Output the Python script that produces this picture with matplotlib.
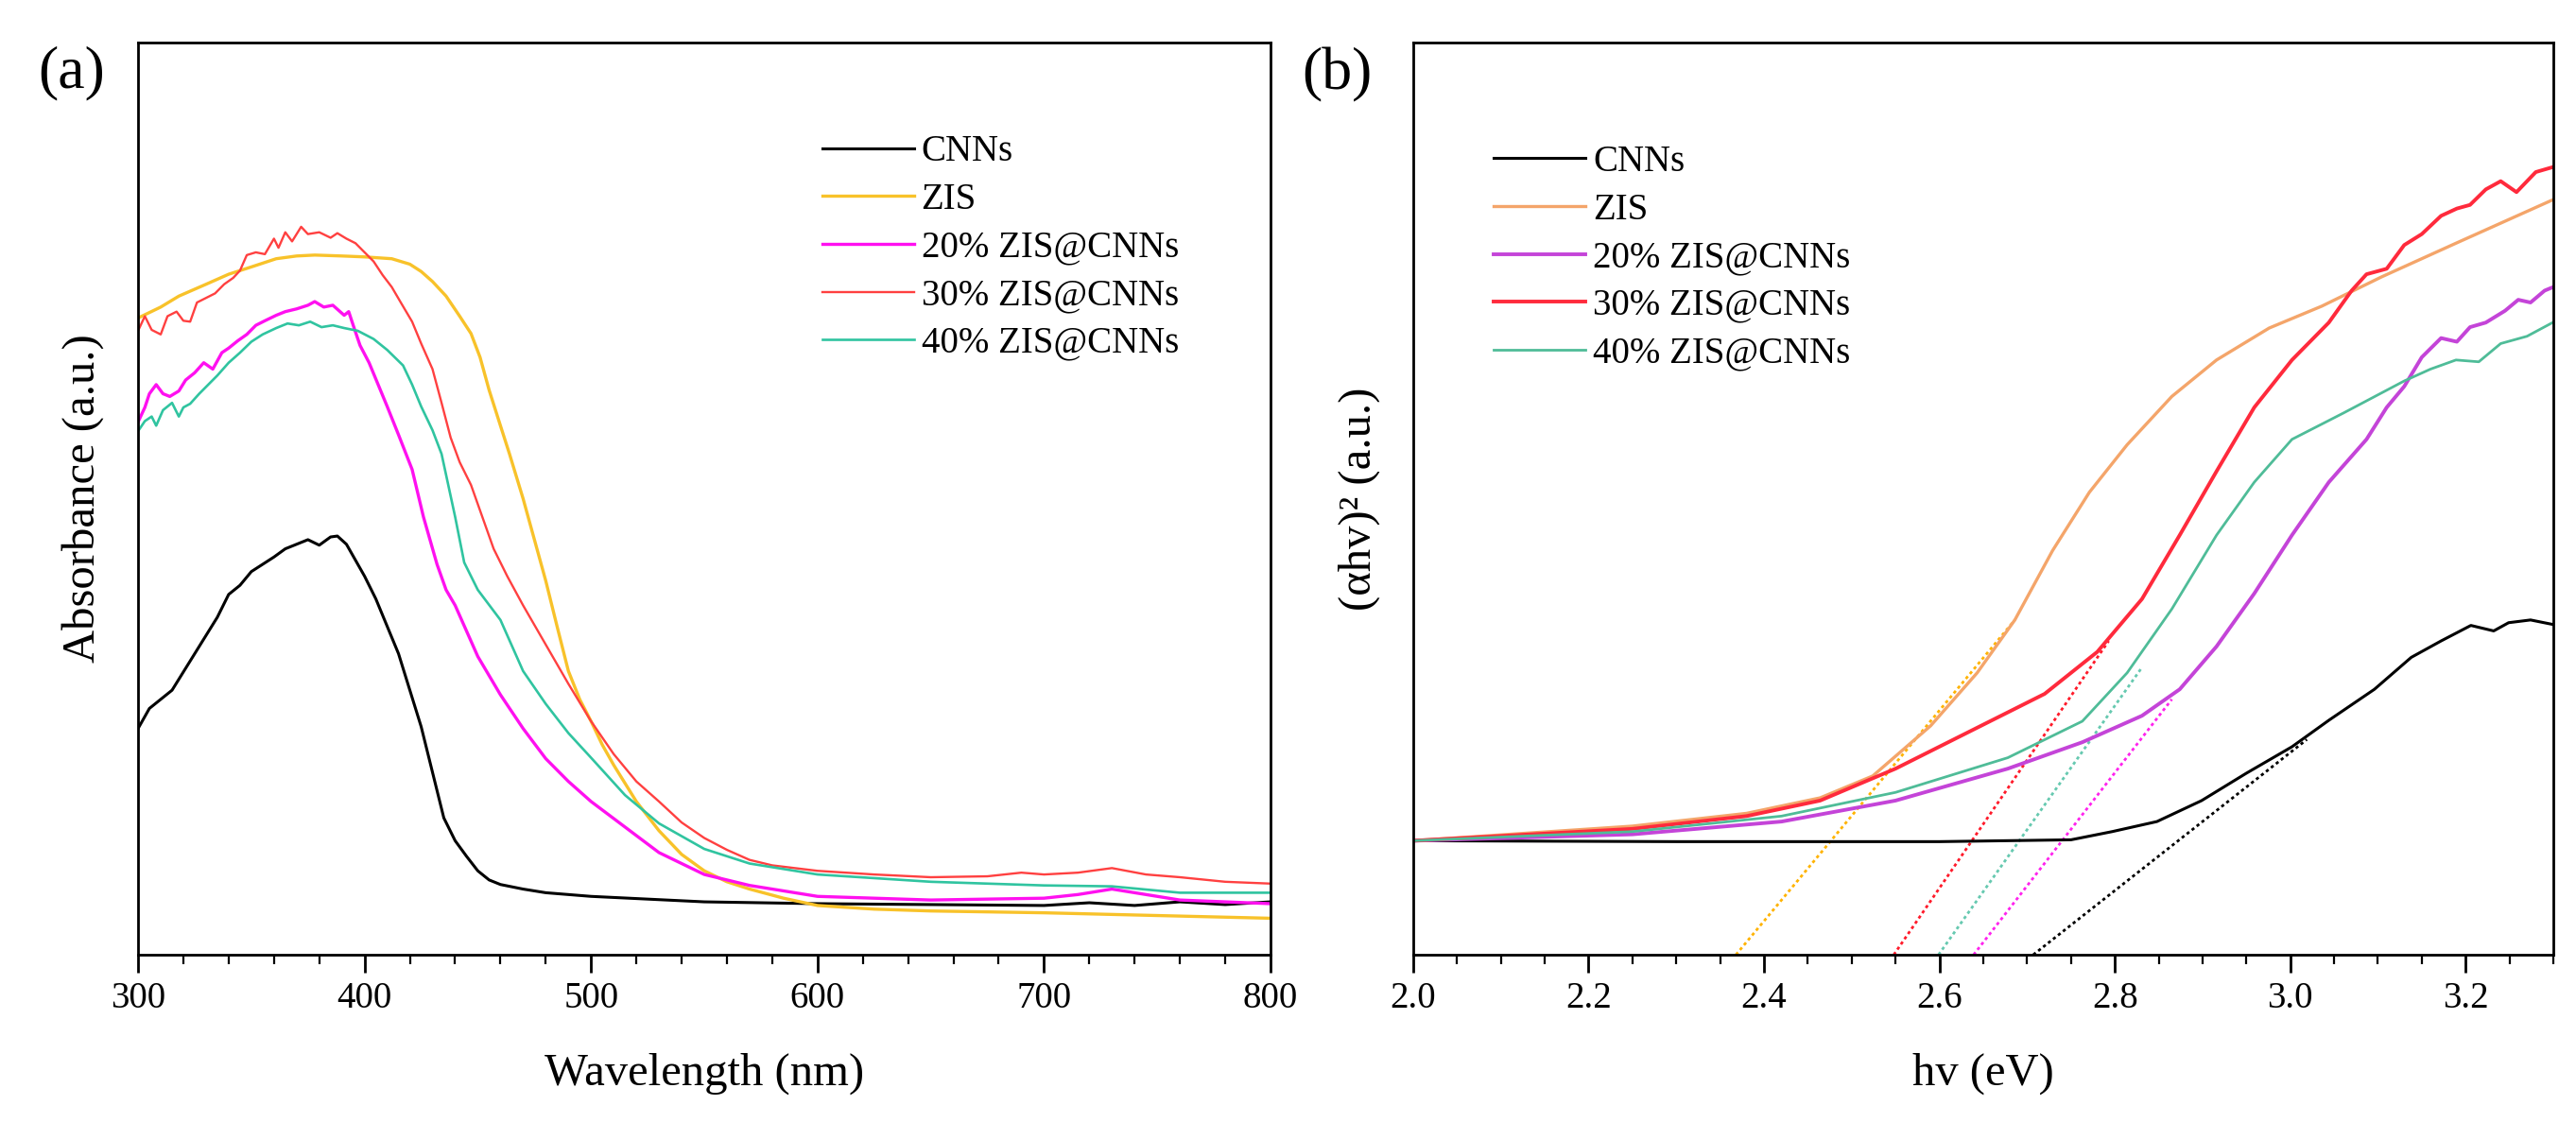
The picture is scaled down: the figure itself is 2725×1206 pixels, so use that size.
import matplotlib
matplotlib.use("Agg")
import matplotlib.pyplot as plt
from matplotlib.ticker import MultipleLocator, NullLocator

plt.rcParams['font.family'] = ['Liberation Serif', 'DejaVu Serif']

### Panel (a) data: absorbance (axes fraction) vs wavelength (nm) ###
labels = ["CNNs", "ZIS", "20% ZIS@CNNs", "30% ZIS@CNNs", "40% ZIS@CNNs"]

wl_cnns = [300, 305, 310, 315, 320, 325, 330, 335, 340, 345, 350, 355, 360, 365, 370, 375, 380, 385, 388,
           392, 400, 405, 410, 415, 420, 425, 430, 435, 440, 445, 450, 455, 460, 470, 480, 500, 550, 600,
           650, 700, 720, 740, 760, 780, 800]
ab_cnns = [0.248, 0.27, 0.28, 0.29, 0.31, 0.33, 0.35, 0.37, 0.395, 0.405, 0.42, 0.428, 0.436, 0.445, 0.45,
           0.455, 0.449, 0.458, 0.459, 0.45, 0.415, 0.39, 0.36, 0.33, 0.29, 0.25, 0.20, 0.15, 0.125, 0.108,
           0.092, 0.082, 0.077, 0.072, 0.068, 0.064, 0.058, 0.056, 0.055, 0.054, 0.057, 0.054, 0.058, 0.055, 0.058]

wl_zis = [300, 310, 318, 330, 340, 350, 361, 370, 378, 390, 400, 412, 420, 425, 430, 436, 442, 447, 451,
          455, 460, 464, 470, 475, 480, 485, 490, 495, 500, 505, 510, 520, 530, 540, 550, 560, 570, 585,
          600, 625, 650, 700, 750, 800]
ab_zis = [0.698, 0.71, 0.722, 0.735, 0.746, 0.754, 0.763, 0.766, 0.767, 0.766, 0.765, 0.763, 0.757, 0.749,
          0.738, 0.722, 0.70, 0.681, 0.655, 0.619, 0.58, 0.549, 0.50, 0.455, 0.41, 0.36, 0.311, 0.28, 0.256,
          0.23, 0.208, 0.168, 0.136, 0.11, 0.092, 0.08, 0.072, 0.062, 0.054, 0.05, 0.048, 0.046, 0.043, 0.040]

wl_20 = [300, 303, 305, 308, 311, 314, 318, 321, 325, 329, 333, 337, 340, 344, 348, 352, 356, 361, 365,
         370, 375, 378, 382, 386, 391, 393, 395, 398, 402, 406, 410, 415, 421, 426, 432, 436, 440, 445,
         450, 460, 470, 480, 490, 500, 515, 530, 550, 570, 600, 650, 700, 715, 730, 745, 760, 780, 800]
ab_20 = [0.584, 0.60, 0.615, 0.625, 0.615, 0.612, 0.618, 0.63, 0.638, 0.649, 0.642, 0.66, 0.665, 0.673,
         0.68, 0.69, 0.695, 0.701, 0.705, 0.708, 0.712, 0.716, 0.71, 0.712, 0.701, 0.705, 0.69, 0.668, 0.649,
         0.625, 0.601, 0.57, 0.532, 0.48, 0.428, 0.40, 0.383, 0.355, 0.327, 0.285, 0.248, 0.215, 0.19, 0.168,
         0.14, 0.112, 0.088, 0.076, 0.064, 0.060, 0.062, 0.066, 0.072, 0.066, 0.060, 0.058, 0.056]

wl_30 = [300, 303, 306, 310, 313, 317, 320, 323, 326, 330, 334, 338, 342, 345, 348, 352, 356, 360, 362,
         365, 368, 372, 375, 380, 385, 388, 392, 396, 400, 404, 408, 412, 416, 421, 425, 430, 434, 438,
         442, 447, 452, 457, 463, 470, 480, 490, 500, 510, 520, 530, 540, 550, 560, 570, 580, 600, 625,
         650, 675, 690, 700, 715, 730, 745, 760, 780, 800]
ab_30 = [0.684, 0.70, 0.685, 0.68, 0.70, 0.705, 0.695, 0.694, 0.715, 0.72, 0.725, 0.735, 0.742, 0.75,
         0.767, 0.77, 0.768, 0.785, 0.775, 0.792, 0.782, 0.798, 0.79, 0.792, 0.786, 0.791, 0.785, 0.78,
         0.77, 0.76, 0.745, 0.732, 0.715, 0.694, 0.67, 0.642, 0.605, 0.567, 0.54, 0.515, 0.48, 0.445,
         0.415, 0.383, 0.34, 0.297, 0.256, 0.22, 0.19, 0.168, 0.145, 0.128, 0.115, 0.104, 0.098, 0.092,
         0.088, 0.085, 0.086, 0.09, 0.088, 0.09, 0.095, 0.088, 0.085, 0.08, 0.078]

wl_40 = [300, 303, 306, 308, 311, 315, 318, 320, 323, 327, 331, 335, 340, 345, 350, 355, 361, 366, 371,
         376, 381, 386, 391, 397, 404, 410, 417, 421, 425, 430, 434, 440, 444, 450, 460, 470, 480, 490,
         500, 515, 530, 550, 570, 600, 650, 700, 730, 760, 800]
ab_40 = [0.574, 0.585, 0.59, 0.58, 0.597, 0.605, 0.59, 0.60, 0.604, 0.615, 0.625, 0.635, 0.649, 0.66,
         0.672, 0.68, 0.687, 0.692, 0.69, 0.694, 0.688, 0.69, 0.687, 0.684, 0.675, 0.663, 0.646, 0.625,
         0.601, 0.575, 0.549, 0.48, 0.43, 0.40, 0.367, 0.311, 0.275, 0.243, 0.216, 0.175, 0.144, 0.116,
         0.100, 0.088, 0.080, 0.076, 0.075, 0.068, 0.068]

### Panel (b) data: (ahv)^2 (axes fraction) vs photon energy (eV) ###
ev_cnns = [2.0, 2.3, 2.6, 2.75, 2.797, 2.848, 2.899, 2.95, 3.002, 3.044, 3.096, 3.138, 3.172, 3.206,
           3.232, 3.249, 3.274, 3.305]
tc_cnns = [0.125, 0.124, 0.124, 0.126, 0.135, 0.146, 0.169, 0.199, 0.228, 0.257, 0.291, 0.326, 0.344,
           0.361, 0.355, 0.364, 0.367, 0.361]

ev_zis = [2.0, 2.25, 2.38, 2.464, 2.524, 2.59, 2.643, 2.686, 2.729, 2.771, 2.814, 2.865, 2.916, 2.976,
          3.036, 3.104, 3.189, 3.305]
tc_zis = [0.125, 0.141, 0.155, 0.172, 0.196, 0.251, 0.309, 0.367, 0.443, 0.507, 0.559, 0.612, 0.652,
          0.687, 0.711, 0.743, 0.780, 0.830]

ev_20 = [2.0, 2.25, 2.42, 2.55, 2.678, 2.763, 2.831, 2.874, 2.916, 2.959, 3.002, 3.044, 3.087, 3.11,
         3.13, 3.15, 3.172, 3.19, 3.205, 3.223, 3.245, 3.26, 3.274, 3.29, 3.305]
tc_20 = [0.125, 0.132, 0.146, 0.169, 0.204, 0.233, 0.262, 0.291, 0.338, 0.396, 0.460, 0.518, 0.565,
         0.600, 0.623, 0.655, 0.676, 0.672, 0.688, 0.693, 0.706, 0.718, 0.715, 0.728, 0.734]

ev_30 = [2.0, 2.25, 2.38, 2.464, 2.55, 2.635, 2.72, 2.78, 2.831, 2.874, 2.916, 2.959, 3.002, 3.044,
         3.07, 3.087, 3.11, 3.13, 3.15, 3.172, 3.19, 3.205, 3.223, 3.24, 3.258, 3.28, 3.305]
tc_30 = [0.125, 0.138, 0.152, 0.169, 0.204, 0.245, 0.286, 0.332, 0.390, 0.460, 0.530, 0.600, 0.652,
         0.693, 0.728, 0.746, 0.752, 0.778, 0.790, 0.810, 0.818, 0.822, 0.839, 0.848, 0.836, 0.858, 0.865]

ev_40 = [2.0, 2.25, 2.42, 2.55, 2.678, 2.763, 2.814, 2.865, 2.916, 2.959, 3.002, 3.061, 3.13, 3.16,
         3.189, 3.215, 3.24, 3.27, 3.305]
tc_40 = [0.125, 0.135, 0.152, 0.178, 0.216, 0.256, 0.309, 0.379, 0.460, 0.518, 0.565, 0.594, 0.629,
         0.642, 0.652, 0.650, 0.670, 0.678, 0.696]

# tangent (Tauc) lines: start/end x and y
tan_x = {"CNNs": [2.707, 3.019], "ZIS": [2.368, 2.686], "20%": [2.639, 2.865],
         "30%": [2.548, 2.793], "40%": [2.599, 2.831]}
tan_y = {"CNNs": [0.0, 0.236], "ZIS": [0.0, 0.367], "20%": [0.0, 0.28],
         "30%": [0.0, 0.344], "40%": [0.0, 0.315]}

### Style ###
colors_a = ["black", "#F8C22A", "#FF10F0", "#FF4040", "#30C4A0"]
widths_a = [2.2, 2.4, 2.4, 1.7, 1.9]
colors_b = ["black", "#F4A56A", "#C444D8", "#FF2A3C", "#4FBC98"]
widths_b = [2.2, 2.4, 2.8, 2.8, 2.0]
tan_colors = {"CNNs": "black", "ZIS": "#FFB300", "20%": "#FF22EE", "30%": "#FF1A2A", "40%": "#66C9B0"}

fig = plt.figure(figsize=(27.25, 12.06), dpi=100)
ax_a = fig.add_axes([0.0536, 0.1625, 0.4396, 0.8002])
ax_b = fig.add_axes([0.5486, 0.1625, 0.4426, 0.8002])


def style_axis(ax):
    for s in ax.spines.values():
        s.set_linewidth(2.0)
    ax.yaxis.set_major_locator(NullLocator())
    ax.yaxis.set_minor_locator(NullLocator())
    ax.tick_params(axis='x', which='major', direction='out', length=14, width=2.0,
                   labelsize=28, pad=6, top=False)
    ax.tick_params(axis='x', which='minor', direction='out', length=7, width=1.6, top=False)
    ax.set_ylim(0, 1)


# Panel (a)
series_a = [(wl_cnns, ab_cnns), (wl_zis, ab_zis), (wl_20, ab_20), (wl_30, ab_30), (wl_40, ab_40)]
for (x, y), lab, c, w in zip(series_a, labels, colors_a, widths_a):
    ax_a.plot(x, y, color=c, lw=w, label=lab)
ax_a.set_xlim(300, 800)
ax_a.xaxis.set_major_locator(MultipleLocator(100))
ax_a.xaxis.set_minor_locator(MultipleLocator(20))
style_axis(ax_a)
ax_a.set_xlabel("Wavelength (nm)", fontsize=35)
ax_a.xaxis.set_label_coords(0.5, -0.13)
ax_a.xaxis.label.set_va('center')
ax_a.set_ylabel("Absorbance (a.u.)", fontsize=35)
ax_a.yaxis.set_label_coords(-0.049, 0.5)
ax_a.yaxis.label.set_va('center')
ax_a.legend(loc='upper left', bbox_to_anchor=(0.604, 0.899), frameon=False, fontsize=28,
            handlelength=2.5, handletextpad=0.2, labelspacing=0.35, borderpad=0, borderaxespad=0)

# Panel (b)
series_b = [(ev_cnns, tc_cnns), (ev_zis, tc_zis), (ev_20, tc_20), (ev_30, tc_30), (ev_40, tc_40)]
for key in ["ZIS", "30%", "40%", "20%", "CNNs"]:
    ax_b.plot(tan_x[key], tan_y[key], color=tan_colors[key], lw=2.0, ls=(0, (1.2, 1.2)))
for (x, y), lab, c, w in zip(series_b, labels, colors_b, widths_b):
    ax_b.plot(x, y, color=c, lw=w, label=lab)
ax_b.set_xlim(2.0, 3.3)
ax_b.xaxis.set_major_locator(MultipleLocator(0.2))
ax_b.xaxis.set_minor_locator(MultipleLocator(0.05))
ax_b.xaxis.set_major_formatter(plt.FormatStrFormatter('%.1f'))
style_axis(ax_b)
ax_b.set_xlabel("hv (eV)", fontsize=35)
ax_b.xaxis.set_label_coords(0.5, -0.13)
ax_b.xaxis.label.set_va('center')
ax_b.set_ylabel("(\u03b1hv)\u00b2 (a.u.)", fontsize=35)
ax_b.yaxis.set_label_coords(-0.047, 0.5)
ax_b.yaxis.label.set_va('center')
ax_b.legend(loc='upper left', bbox_to_anchor=(0.0705, 0.888), frameon=False, fontsize=28,
            handlelength=2.5, handletextpad=0.2, labelspacing=0.35, borderpad=0, borderaxespad=0)

# panel letters
fig.text(0.0279, 0.936, "(a)", fontsize=46, ha='center', va='center')
fig.text(0.519, 0.934, "(b)", fontsize=46, ha='center', va='center')

fig.savefig("out.png", dpi=100)
